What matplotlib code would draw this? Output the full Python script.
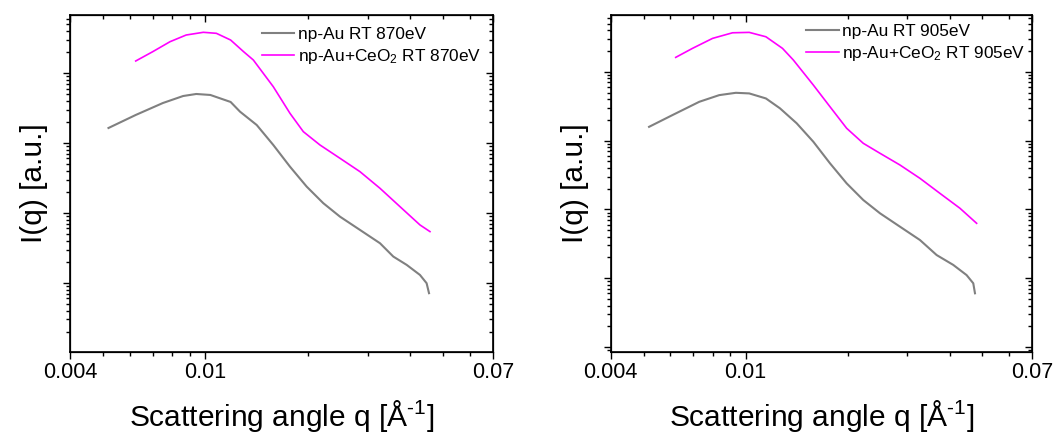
import numpy as np
import matplotlib
matplotlib.use("Agg")
import matplotlib.pyplot as plt
from matplotlib.ticker import FixedLocator, NullFormatter, LogLocator, FixedFormatter

plt.rcParams['font.family'] = ['Liberation Sans', 'DejaVu Sans']
plt.rcParams['mathtext.fontset'] = 'custom'
plt.rcParams['mathtext.rm'] = 'Liberation Sans'
plt.rcParams['mathtext.it'] = 'Liberation Sans:italic'

# scattering curves (q in 1/A, intensity arb. units)
q_au_870 = [0.00519, 0.00624, 0.00750, 0.00860, 0.00940, 0.01034, 0.01186, 0.01264, 0.01415, 0.01583,
            0.01772, 0.01984, 0.02220, 0.02486, 0.02846, 0.03259, 0.03566, 0.03904, 0.04271, 0.04468, 0.04541]
I_au_870 = [1637, 2512, 3724, 4688, 5012, 4853, 3855, 2800, 1807, 936,
            459, 238, 138, 88.5, 57.2, 36.9, 23.8, 18.1, 13.0, 9.90, 7.13]

q_ceo2_870 = [0.00624, 0.00700, 0.00787, 0.00878, 0.00986, 0.01077, 0.01186, 0.01295, 0.01383, 0.01583,
              0.01772, 0.01940, 0.02171, 0.02486, 0.02846, 0.03259, 0.03731, 0.04271, 0.04571]
I_ceo2_870 = [14840, 20150, 28000, 34900, 38150, 36900, 29600, 20150, 15340, 6370,
              2656, 1450, 936, 604, 389, 225, 123, 67.4, 54.1]

q_au_905 = [0.00519, 0.00608, 0.00730, 0.00836, 0.00936, 0.01025, 0.01148, 0.01263, 0.01415, 0.01584,
            0.01774, 0.01987, 0.02224, 0.02492, 0.02854, 0.03269, 0.03662, 0.04099, 0.04488, 0.04697, 0.04752]
I_au_905 = [1585, 2344, 3664, 4580, 4950, 4850, 4100, 2946, 1784, 964,
            468, 239, 137, 87.8, 56.1, 35.9, 21.7, 15.6, 11.1, 8.43, 6.03]

q_ceo2_905 = [0.00622, 0.00697, 0.00799, 0.00915, 0.01025, 0.01148, 0.01285, 0.01383, 0.01584, 0.01774,
              0.01987, 0.02224, 0.02492, 0.02854, 0.03269, 0.03745, 0.04289, 0.04805]
I_ceo2_905 = [16200, 21900, 30600, 36900, 37400, 32300, 21900, 14850, 6430, 3110,
              1510, 914, 654, 442, 283, 171, 104, 62.8]

energies = ['870eV', '905eV']
xticks = [0.004, 0.01, 0.07]
xtick_labels = ['0.004', '0.01', '0.07']
xminor = [0.005, 0.006, 0.007, 0.008, 0.009, 0.02, 0.03, 0.04, 0.05, 0.06]
ylims = [(1.03, 6.85e4), (0.846, 6.8e4)]

panels = [
    (q_au_870, I_au_870, q_ceo2_870, I_ceo2_870),
    (q_au_905, I_au_905, q_ceo2_905, I_ceo2_905),
]
positions = [[0.0661, 0.1927, 0.3994, 0.774], [0.5767, 0.1927, 0.3978, 0.774]]
leg_anchor = [(0.972, 0.962), (0.985, 0.972)]

fig = plt.figure(figsize=(10.59, 4.36), dpi=100)


def set_x(a):
    a.set_xscale('log')
    a.set_xlim(0.004, 0.07)
    a.xaxis.set_major_locator(FixedLocator(xticks))
    a.xaxis.set_minor_locator(FixedLocator(xminor))
    a.xaxis.set_minor_formatter(NullFormatter())


def set_y(a, lim):
    a.set_yscale('log')
    a.set_ylim(*lim)
    a.yaxis.set_major_locator(LogLocator(base=10, numticks=20))
    a.yaxis.set_minor_locator(LogLocator(base=10, subs=np.arange(2, 10), numticks=20))
    a.yaxis.set_major_formatter(NullFormatter())
    a.yaxis.set_minor_formatter(NullFormatter())


for i, (qa, ia, qc, ic) in enumerate(panels):
    ax = fig.add_axes(positions[i])
    e = energies[i]
    ax.plot(qa, ia, color='#808080', lw=1.5, label='np-Au RT ' + e)
    ax.plot(qc, ic, color='#ff00ff', lw=1.2, label='np-Au+CeO$_2$ RT ' + e)
    set_x(ax)
    set_y(ax, ylims[i])
    ax.xaxis.set_major_formatter(FixedFormatter(xtick_labels))
    ax.tick_params(which='both', direction='out', width=1, labelsize=15.5, pad=2)
    ax.tick_params(which='major', length=5)
    ax.tick_params(which='minor', length=3)
    for s in ax.spines.values():
        s.set_linewidth(1.2)

    # mirror ticks on top and right, pointing inward
    top = ax.twiny()
    set_x(top)
    top.xaxis.set_major_formatter(NullFormatter())
    top.tick_params(which='both', direction='in', width=1, labeltop=False)
    top.tick_params(which='major', length=5)
    top.tick_params(which='minor', length=3)
    right = ax.twinx()
    set_y(right, ylims[i])
    right.tick_params(which='both', direction='in', width=1, labelright=False)
    right.tick_params(which='major', length=5)
    right.tick_params(which='minor', length=3)

    ax.set_xlabel(r'Scattering angle q [Å$^{\text{-1}}$]', fontsize=21.5, labelpad=11)
    ax.set_ylabel('I(q) [a.u.]', fontsize=21.5, labelpad=9)
    ax.legend(loc='upper right', bbox_to_anchor=leg_anchor[i], frameon=False,
              fontsize=12.4, handlelength=1.9, handletextpad=0.2, labelspacing=0.28,
              borderpad=0, borderaxespad=0)

fig.savefig('out.png', dpi=100)
